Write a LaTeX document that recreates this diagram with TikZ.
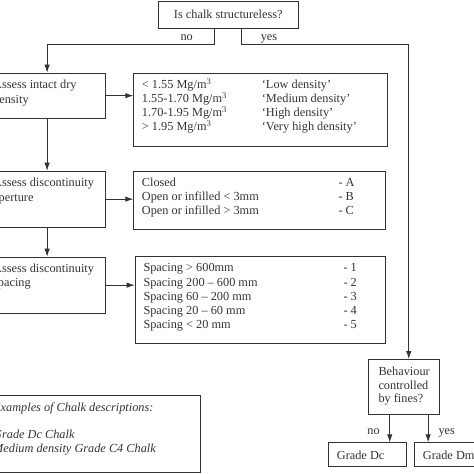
\documentclass[tikz,border=0pt]{standalone}
\usepackage{fontspec}
\setmainfont{Liberation Serif}
\usetikzlibrary{arrows.meta}
\definecolor{ink}{gray}{0.2}
\begin{document}
\begin{tikzpicture}[x=1pt,y=-1pt,
  box/.style={draw=ink, line width=0.9pt, inner sep=0pt, anchor=north west},
  txt/.style={inner sep=0pt, anchor=north west, align=left, text=ink, font=\fontsize{12.3}{14.1}\selectfont},
  arr/.style={draw=ink, line width=0.9pt, -{Latex[length=8pt,width=5.5pt]}},
  lbl/.style={inner sep=0pt, anchor=base, text=ink, font=\fontsize{12.3}{14}\selectfont}]
\useasboundingbox (0,0) rectangle (474,474);
\clip (0,0) rectangle (474,474);

% boxes
\node[box, minimum width=139.7pt, minimum height=27.5pt, text=ink, font=\fontsize{12.3}{14}\selectfont] (q0) at (158,0.5) {Is chalk structureless?};
\node[box, minimum width=117.3pt, minimum height=45pt] (b1) at (-12,72.7) {};
\node[box, minimum width=254pt, minimum height=73.6pt] (b2) at (133.3,72.7) {};
\node[box, minimum width=117.3pt, minimum height=56pt] (b3) at (-12,170.7) {};
\node[box, minimum width=251.7pt, minimum height=58.6pt] (b4) at (133.3,170.7) {};
\node[box, minimum width=117.3pt, minimum height=56pt] (b5) at (-12,256.7) {};
\node[box, minimum width=250.3pt, minimum height=86.7pt] (b6) at (134.7,256) {};
\node[box, minimum width=71pt, minimum height=55pt] (b7) at (368.3,359) {};
\node[box, minimum width=77.4pt, minimum height=23.4pt] (b8) at (328.3,442.3) {};
\node[box, minimum width=80pt, minimum height=23.4pt] (b9) at (414.3,442.3) {};
\node[box, minimum width=212pt, minimum height=76.7pt] (b10) at (-12,395) {};

% texts
\node[txt, font=\fontsize{12.3}{14.7}\selectfont] (t1) at (-7,78.3) {\rule{0pt}{10pt}Assess intact dry\\density};
\node[txt] (t2) at (141.7,78.3) {\rule{0pt}{10pt}\makebox[120pt][l]{< 1.55 Mg/m\textsuperscript{3}}`Low density'\\
\makebox[120pt][l]{1.55-1.70 Mg/m\textsuperscript{3}}`Medium density'\\
\makebox[120pt][l]{1.70-1.95 Mg/m\textsuperscript{3}}`High density'\\
\makebox[120pt][l]{> 1.95 Mg/m\textsuperscript{3}}`Very high density'};
\node[txt, font=\fontsize{12.3}{14.7}\selectfont] (t3) at (-7,176.3) {\rule{0pt}{10pt}Assess discontinuity\\aperture};
\node[txt] (t4) at (141.7,176.3) {\rule{0pt}{10pt}\makebox[196.6pt][l]{Closed}- A\\
\makebox[196.6pt][l]{Open or infilled < 3mm}- B\\
\makebox[196.6pt][l]{Open or infilled > 3mm}- C};
\node[txt, font=\fontsize{12.3}{14.4}\selectfont] (t5) at (-7,262.3) {\rule{0pt}{10pt}Assess discontinuity\\spacing};
\node[txt] (t6) at (143.3,261.7) {\rule{0pt}{10pt}\makebox[200pt][l]{Spacing > 600mm}- 1\\
\makebox[200pt][l]{Spacing 200 -- 600 mm}- 2\\
\makebox[200pt][l]{Spacing 60 -- 200 mm}- 3\\
\makebox[200pt][l]{Spacing 20 -- 60 mm}- 4\\
\makebox[200pt][l]{Spacing < 20 mm}- 5};
\node[txt, font=\fontsize{12.3}{13.5}\selectfont] (t7) at (378.3,365.7) {\rule{0pt}{10pt}Behaviour\\controlled\\by fines?};
\node[txt, anchor=base west] (t8) at (336.7,459.5) {Grade Dc};
\node[txt, anchor=base west] (t9) at (422.7,459.5) {Grade Dmf};
\node[txt, font=\fontsize{12.3}{13.7}\selectfont\itshape] (t10) at (-7,401.3) {\rule{0pt}{10pt}Examples of Chalk descriptions:\\ \mbox{}\\Grade Dc Chalk\\Medium density Grade C4 Chalk};

% labels
\node[lbl] (lno1) at (186.7,40.8) {no};
\node[lbl] (lyes1) at (269,40.8) {yes};
\node[lbl] (lno2) at (373.5,434.5) {no};
\node[lbl] (lyes2) at (446.7,434.5) {yes};

% connectors
\draw[arr] ([xshift=-14pt]q0.south) -- ++(0,15.7) -| (b1.north);
\draw[arr] ([xshift=13pt]q0.south) -- ++(0,15.7) -| ([xshift=4.5pt]b7.north);
\draw[arr] (b1.east) -- (b1.east -| b2.west);
\draw[arr] (b1.south) -- (b3.north);
\draw[arr] (b3.east) -- (b3.east -| b4.west);
\draw[arr] (b3.south) -- (b5.north);
\draw[arr] (b5.east) -- (b5.east -| b6.west);
\draw[arr] ([xshift=-14.5pt]b7.south) -- ([xshift=-14.5pt]b7.south |- b8.north);
\draw[arr] ([xshift=23.9pt]b7.south) -- ([xshift=23.9pt]b7.south |- b9.north);
\end{tikzpicture}
\end{document}
